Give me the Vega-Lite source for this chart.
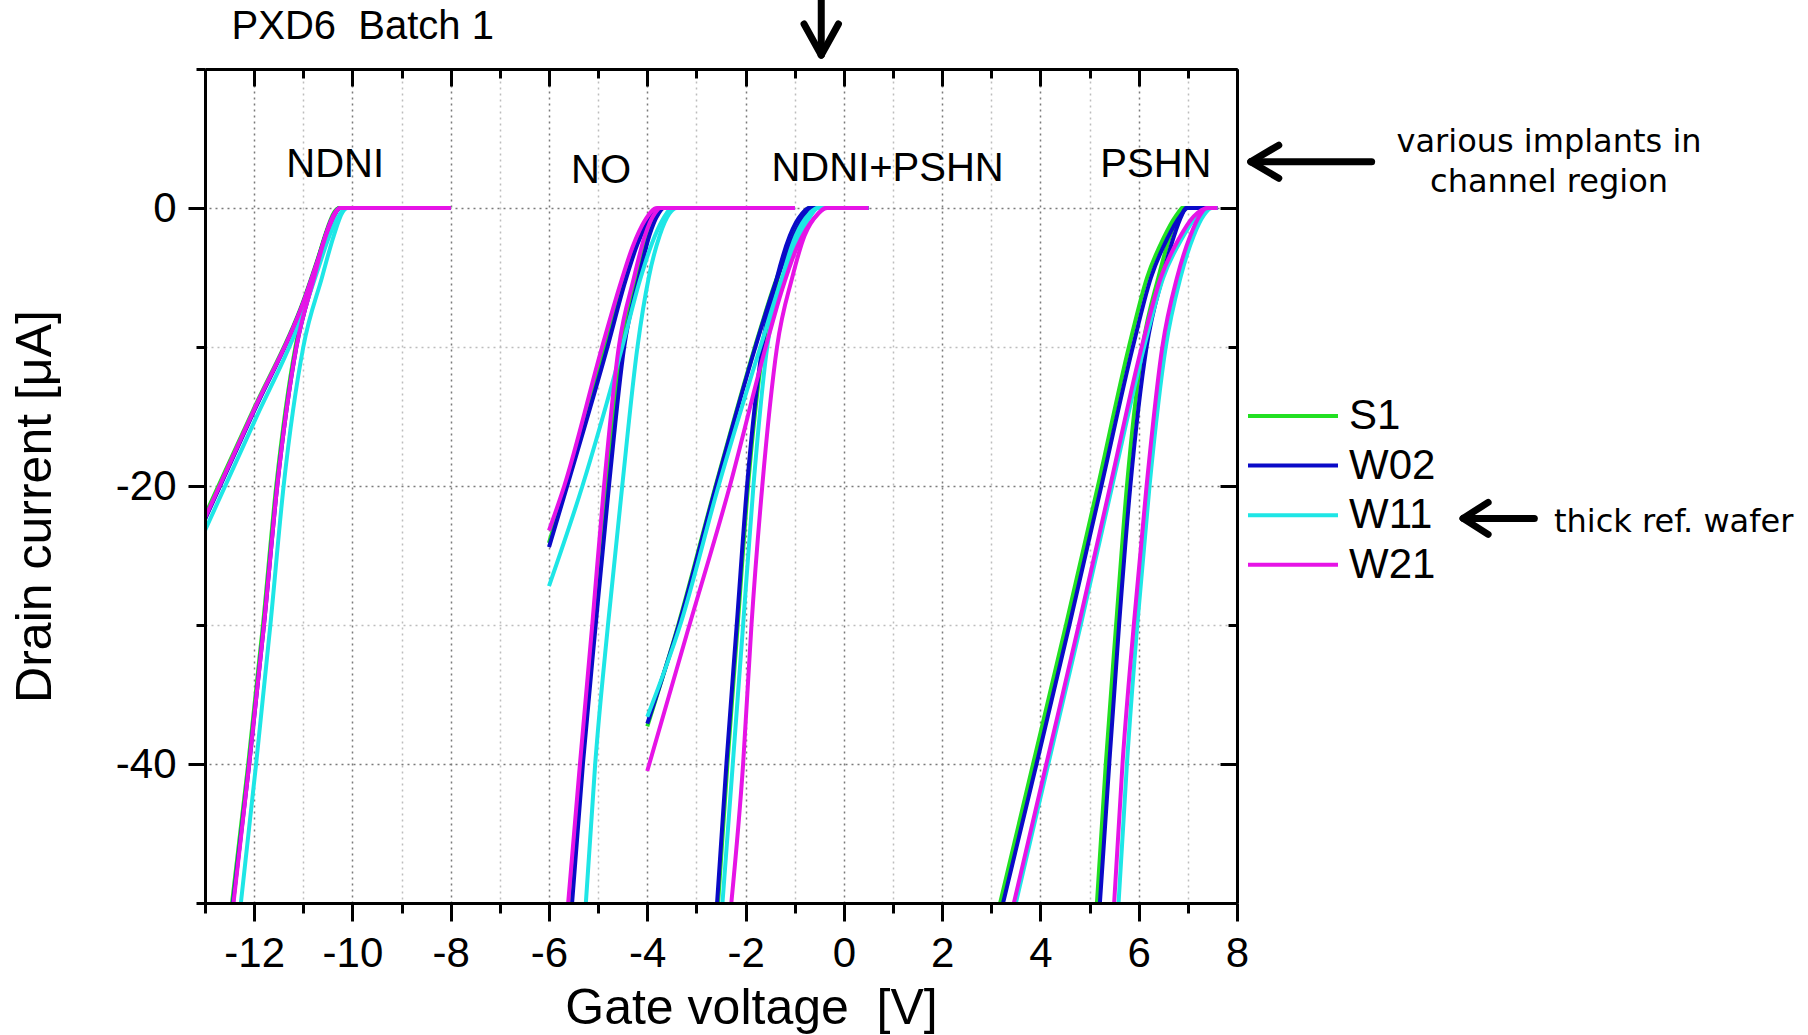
{
 "$schema": "https://vega.github.io/schema/vega-lite/v6.json",
 "width": 1032, "height": 834,
 "autosize": {"type": "none"},
 "padding": {"left": 205, "top": 69, "right": 571, "bottom": 132},
 "background": "white",
 "config": {"view": {"stroke": null}, "font": "Liberation Sans"},
 "resolve": {"axis": {"x": "independent", "y": "independent"}},
 "datasets": {
  "curves": [
   {"w":"S1","c":"A1","V":-13,"I":-22.1},{"w":"S1","c":"A1","V":-12,"I":-14.4},{"w":"S1","c":"A1","V":-11,"I":-6.7},{"w":"S1","c":"A1","V":-10.7,"I":-3.6},{"w":"S1","c":"A1","V":-10.5,"I":-1.5},{"w":"S1","c":"A1","V":-10.35,"I":-0.35},{"w":"S1","c":"A1","V":-10.27,"I":0},{"w":"S1","c":"A1","V":-8,"I":0},
   {"w":"S1","c":"A2","V":-12.45,"I":-50},{"w":"S1","c":"A2","V":-12.12,"I":-40},{"w":"S1","c":"A2","V":-11.82,"I":-30},{"w":"S1","c":"A2","V":-11.55,"I":-20},{"w":"S1","c":"A2","V":-11.16,"I":-10},{"w":"S1","c":"A2","V":-10.8,"I":-5},{"w":"S1","c":"A2","V":-10.56,"I":-2},{"w":"S1","c":"A2","V":-10.37,"I":-0.3},{"w":"S1","c":"A2","V":-10.27,"I":0},{"w":"S1","c":"A2","V":-8,"I":0},
   {"w":"S1","c":"B1","V":-6,"I":-24.1},{"w":"S1","c":"B1","V":-5.66,"I":-20},{"w":"S1","c":"B1","V":-4.86,"I":-10},{"w":"S1","c":"B1","V":-4.49,"I":-5.3},{"w":"S1","c":"B1","V":-4.25,"I":-2.6},{"w":"S1","c":"B1","V":-4.0,"I":-0.8},{"w":"S1","c":"B1","V":-3.75,"I":0},{"w":"S1","c":"B1","V":-1,"I":0},
   {"w":"S1","c":"B2","V":-5.56,"I":-50},{"w":"S1","c":"B2","V":-5.33,"I":-40},{"w":"S1","c":"B2","V":-5.08,"I":-30},{"w":"S1","c":"B2","V":-4.82,"I":-20},{"w":"S1","c":"B2","V":-4.52,"I":-10},{"w":"S1","c":"B2","V":-4.21,"I":-5},{"w":"S1","c":"B2","V":-4.0,"I":-2},{"w":"S1","c":"B2","V":-3.8,"I":-0.4},{"w":"S1","c":"B2","V":-3.69,"I":0},{"w":"S1","c":"B2","V":-1,"I":0},
   {"w":"S1","c":"C1","V":-4,"I":-37.3},{"w":"S1","c":"C1","V":-3.37,"I":-30},{"w":"S1","c":"C1","V":-2.61,"I":-20},{"w":"S1","c":"C1","V":-1.81,"I":-10},{"w":"S1","c":"C1","V":-1.41,"I":-5.5},{"w":"S1","c":"C1","V":-1.11,"I":-2.7},{"w":"S1","c":"C1","V":-0.86,"I":-0.8},{"w":"S1","c":"C1","V":-0.69,"I":0},{"w":"S1","c":"C1","V":0.5,"I":0},
   {"w":"S1","c":"C2","V":-2.56,"I":-50},{"w":"S1","c":"C2","V":-2.37,"I":-40},{"w":"S1","c":"C2","V":-2.16,"I":-30},{"w":"S1","c":"C2","V":-1.95,"I":-20},{"w":"S1","c":"C2","V":-1.64,"I":-10},{"w":"S1","c":"C2","V":-1.34,"I":-5},{"w":"S1","c":"C2","V":-1.08,"I":-2},{"w":"S1","c":"C2","V":-0.84,"I":-0.4},{"w":"S1","c":"C2","V":-0.7,"I":0},{"w":"S1","c":"C2","V":0.5,"I":0},
   {"w":"S1","c":"D1","V":3.18,"I":-50},{"w":"S1","c":"D1","V":3.85,"I":-40},{"w":"S1","c":"D1","V":4.52,"I":-30},{"w":"S1","c":"D1","V":5.17,"I":-20},{"w":"S1","c":"D1","V":5.8,"I":-10},{"w":"S1","c":"D1","V":6.17,"I":-5},{"w":"S1","c":"D1","V":6.5,"I":-2.2},{"w":"S1","c":"D1","V":6.75,"I":-0.6},{"w":"S1","c":"D1","V":6.91,"I":0},{"w":"S1","c":"D1","V":7.6,"I":0},
   {"w":"S1","c":"D2","V":5.15,"I":-50},{"w":"S1","c":"D2","V":5.33,"I":-40},{"w":"S1","c":"D2","V":5.54,"I":-30},{"w":"S1","c":"D2","V":5.76,"I":-20},{"w":"S1","c":"D2","V":6.08,"I":-10},{"w":"S1","c":"D2","V":6.4,"I":-5},{"w":"S1","c":"D2","V":6.64,"I":-2},{"w":"S1","c":"D2","V":6.8,"I":-0.5},{"w":"S1","c":"D2","V":6.88,"I":0},{"w":"S1","c":"D2","V":7.6,"I":0},

   {"w":"W02","c":"A1","V":-13,"I":-22.4},{"w":"W02","c":"A1","V":-12,"I":-14.6},{"w":"W02","c":"A1","V":-11,"I":-6.8},{"w":"W02","c":"A1","V":-10.7,"I":-3.7},{"w":"W02","c":"A1","V":-10.5,"I":-1.6},{"w":"W02","c":"A1","V":-10.35,"I":-0.4},{"w":"W02","c":"A1","V":-10.25,"I":0},{"w":"W02","c":"A1","V":-8,"I":0},
   {"w":"W02","c":"A2","V":-12.43,"I":-50},{"w":"W02","c":"A2","V":-12.1,"I":-40},{"w":"W02","c":"A2","V":-11.8,"I":-30},{"w":"W02","c":"A2","V":-11.53,"I":-20},{"w":"W02","c":"A2","V":-11.14,"I":-10},{"w":"W02","c":"A2","V":-10.78,"I":-5},{"w":"W02","c":"A2","V":-10.55,"I":-2},{"w":"W02","c":"A2","V":-10.35,"I":-0.3},{"w":"W02","c":"A2","V":-10.25,"I":0},{"w":"W02","c":"A2","V":-8,"I":0},
   {"w":"W02","c":"B1","V":-6,"I":-24.4},{"w":"W02","c":"B1","V":-5.63,"I":-20},{"w":"W02","c":"B1","V":-4.81,"I":-10},{"w":"W02","c":"B1","V":-4.45,"I":-5.3},{"w":"W02","c":"B1","V":-4.2,"I":-2.6},{"w":"W02","c":"B1","V":-3.95,"I":-0.8},{"w":"W02","c":"B1","V":-3.7,"I":0},{"w":"W02","c":"B1","V":-1,"I":0},
   {"w":"W02","c":"B2","V":-5.53,"I":-50},{"w":"W02","c":"B2","V":-5.31,"I":-40},{"w":"W02","c":"B2","V":-5.05,"I":-30},{"w":"W02","c":"B2","V":-4.78,"I":-20},{"w":"W02","c":"B2","V":-4.47,"I":-10},{"w":"W02","c":"B2","V":-4.17,"I":-5},{"w":"W02","c":"B2","V":-3.96,"I":-2},{"w":"W02","c":"B2","V":-3.77,"I":-0.4},{"w":"W02","c":"B2","V":-3.66,"I":0},{"w":"W02","c":"B2","V":-1,"I":0},
   {"w":"W02","c":"C1","V":-4,"I":-37.1},{"w":"W02","c":"C1","V":-3.36,"I":-30},{"w":"W02","c":"C1","V":-2.6,"I":-20},{"w":"W02","c":"C1","V":-1.8,"I":-10},{"w":"W02","c":"C1","V":-1.4,"I":-5.5},{"w":"W02","c":"C1","V":-1.1,"I":-2.7},{"w":"W02","c":"C1","V":-0.85,"I":-0.8},{"w":"W02","c":"C1","V":-0.68,"I":0},{"w":"W02","c":"C1","V":0.5,"I":0},
   {"w":"W02","c":"C2","V":-2.58,"I":-50},{"w":"W02","c":"C2","V":-2.39,"I":-40},{"w":"W02","c":"C2","V":-2.18,"I":-30},{"w":"W02","c":"C2","V":-1.97,"I":-20},{"w":"W02","c":"C2","V":-1.66,"I":-10},{"w":"W02","c":"C2","V":-1.36,"I":-5},{"w":"W02","c":"C2","V":-1.1,"I":-2},{"w":"W02","c":"C2","V":-0.85,"I":-0.4},{"w":"W02","c":"C2","V":-0.71,"I":0},{"w":"W02","c":"C2","V":0.5,"I":0},
   {"w":"W02","c":"D1","V":3.24,"I":-50},{"w":"W02","c":"D1","V":3.92,"I":-40},{"w":"W02","c":"D1","V":4.59,"I":-30},{"w":"W02","c":"D1","V":5.24,"I":-20},{"w":"W02","c":"D1","V":5.88,"I":-10},{"w":"W02","c":"D1","V":6.25,"I":-5},{"w":"W02","c":"D1","V":6.58,"I":-2.2},{"w":"W02","c":"D1","V":6.84,"I":-0.6},{"w":"W02","c":"D1","V":7.0,"I":0},{"w":"W02","c":"D1","V":7.6,"I":0},
   {"w":"W02","c":"D2","V":5.21,"I":-50},{"w":"W02","c":"D2","V":5.4,"I":-40},{"w":"W02","c":"D2","V":5.6,"I":-30},{"w":"W02","c":"D2","V":5.83,"I":-20},{"w":"W02","c":"D2","V":6.16,"I":-10},{"w":"W02","c":"D2","V":6.48,"I":-5},{"w":"W02","c":"D2","V":6.72,"I":-2},{"w":"W02","c":"D2","V":6.88,"I":-0.5},{"w":"W02","c":"D2","V":6.96,"I":0},{"w":"W02","c":"D2","V":7.6,"I":0},

   {"w":"W11","c":"A1","V":-13,"I":-23.2},{"w":"W11","c":"A1","V":-12,"I":-15.4},{"w":"W11","c":"A1","V":-11,"I":-7.5},{"w":"W11","c":"A1","V":-10.7,"I":-4.4},{"w":"W11","c":"A1","V":-10.5,"I":-2.3},{"w":"W11","c":"A1","V":-10.3,"I":-0.7},{"w":"W11","c":"A1","V":-10.12,"I":0},{"w":"W11","c":"A1","V":-8,"I":0},
   {"w":"W11","c":"A2","V":-12.27,"I":-50},{"w":"W11","c":"A2","V":-11.96,"I":-40},{"w":"W11","c":"A2","V":-11.67,"I":-30},{"w":"W11","c":"A2","V":-11.4,"I":-20},{"w":"W11","c":"A2","V":-11.0,"I":-10},{"w":"W11","c":"A2","V":-10.62,"I":-5},{"w":"W11","c":"A2","V":-10.38,"I":-2},{"w":"W11","c":"A2","V":-10.2,"I":-0.3},{"w":"W11","c":"A2","V":-10.1,"I":0},{"w":"W11","c":"A2","V":-8,"I":0},
   {"w":"W11","c":"B1","V":-6,"I":-27.2},{"w":"W11","c":"B1","V":-5.32,"I":-20},{"w":"W11","c":"B1","V":-4.51,"I":-10},{"w":"W11","c":"B1","V":-4.15,"I":-5.2},{"w":"W11","c":"B1","V":-3.9,"I":-2.5},{"w":"W11","c":"B1","V":-3.68,"I":-0.8},{"w":"W11","c":"B1","V":-3.5,"I":0},{"w":"W11","c":"B1","V":-1,"I":0},
   {"w":"W11","c":"B2","V":-5.25,"I":-50},{"w":"W11","c":"B2","V":-5.06,"I":-40},{"w":"W11","c":"B2","V":-4.8,"I":-30},{"w":"W11","c":"B2","V":-4.51,"I":-20},{"w":"W11","c":"B2","V":-4.2,"I":-10},{"w":"W11","c":"B2","V":-3.97,"I":-5},{"w":"W11","c":"B2","V":-3.75,"I":-2},{"w":"W11","c":"B2","V":-3.55,"I":-0.4},{"w":"W11","c":"B2","V":-3.4,"I":0},{"w":"W11","c":"B2","V":-1,"I":0},
   {"w":"W11","c":"C1","V":-4,"I":-36.6},{"w":"W11","c":"C1","V":-3.33,"I":-30},{"w":"W11","c":"C1","V":-2.55,"I":-20},{"w":"W11","c":"C1","V":-1.7,"I":-10},{"w":"W11","c":"C1","V":-1.3,"I":-5.5},{"w":"W11","c":"C1","V":-1.0,"I":-2.7},{"w":"W11","c":"C1","V":-0.72,"I":-0.8},{"w":"W11","c":"C1","V":-0.52,"I":0},{"w":"W11","c":"C1","V":0.5,"I":0},
   {"w":"W11","c":"C2","V":-2.47,"I":-50},{"w":"W11","c":"C2","V":-2.26,"I":-40},{"w":"W11","c":"C2","V":-2.05,"I":-30},{"w":"W11","c":"C2","V":-1.84,"I":-20},{"w":"W11","c":"C2","V":-1.56,"I":-10},{"w":"W11","c":"C2","V":-1.25,"I":-5},{"w":"W11","c":"C2","V":-0.98,"I":-2},{"w":"W11","c":"C2","V":-0.7,"I":-0.4},{"w":"W11","c":"C2","V":-0.54,"I":0},{"w":"W11","c":"C2","V":0.5,"I":0},
   {"w":"W11","c":"D1","V":3.5,"I":-50},{"w":"W11","c":"D1","V":4.16,"I":-40},{"w":"W11","c":"D1","V":4.82,"I":-30},{"w":"W11","c":"D1","V":5.46,"I":-20},{"w":"W11","c":"D1","V":6.11,"I":-10},{"w":"W11","c":"D1","V":6.5,"I":-5},{"w":"W11","c":"D1","V":6.88,"I":-2.2},{"w":"W11","c":"D1","V":7.18,"I":-0.6},{"w":"W11","c":"D1","V":7.5,"I":0},{"w":"W11","c":"D1","V":7.6,"I":0},
   {"w":"W11","c":"D2","V":5.59,"I":-50},{"w":"W11","c":"D2","V":5.76,"I":-40},{"w":"W11","c":"D2","V":5.97,"I":-30},{"w":"W11","c":"D2","V":6.22,"I":-20},{"w":"W11","c":"D2","V":6.55,"I":-10},{"w":"W11","c":"D2","V":6.85,"I":-5},{"w":"W11","c":"D2","V":7.12,"I":-2},{"w":"W11","c":"D2","V":7.33,"I":-0.5},{"w":"W11","c":"D2","V":7.48,"I":0},{"w":"W11","c":"D2","V":7.6,"I":0},

   {"w":"W21","c":"A1","V":-13,"I":-22.3},{"w":"W21","c":"A1","V":-12,"I":-14.5},{"w":"W21","c":"A1","V":-11,"I":-6.8},{"w":"W21","c":"A1","V":-10.7,"I":-3.7},{"w":"W21","c":"A1","V":-10.5,"I":-1.6},{"w":"W21","c":"A1","V":-10.35,"I":-0.4},{"w":"W21","c":"A1","V":-10.25,"I":0},{"w":"W21","c":"A1","V":-8,"I":0},
   {"w":"W21","c":"A2","V":-12.42,"I":-50},{"w":"W21","c":"A2","V":-12.1,"I":-40},{"w":"W21","c":"A2","V":-11.8,"I":-30},{"w":"W21","c":"A2","V":-11.53,"I":-20},{"w":"W21","c":"A2","V":-11.14,"I":-10},{"w":"W21","c":"A2","V":-10.78,"I":-5},{"w":"W21","c":"A2","V":-10.55,"I":-2},{"w":"W21","c":"A2","V":-10.35,"I":-0.3},{"w":"W21","c":"A2","V":-10.25,"I":0},{"w":"W21","c":"A2","V":-8,"I":0},
   {"w":"W21","c":"B1","V":-6,"I":-23.2},{"w":"W21","c":"B1","V":-5.69,"I":-20},{"w":"W21","c":"B1","V":-4.92,"I":-10},{"w":"W21","c":"B1","V":-4.55,"I":-5.5},{"w":"W21","c":"B1","V":-4.3,"I":-2.8},{"w":"W21","c":"B1","V":-4.05,"I":-0.9},{"w":"W21","c":"B1","V":-3.8,"I":0},{"w":"W21","c":"B1","V":-1,"I":0},
   {"w":"W21","c":"B2","V":-5.61,"I":-50},{"w":"W21","c":"B2","V":-5.37,"I":-40},{"w":"W21","c":"B2","V":-5.12,"I":-30},{"w":"W21","c":"B2","V":-4.88,"I":-20},{"w":"W21","c":"B2","V":-4.58,"I":-10},{"w":"W21","c":"B2","V":-4.27,"I":-5},{"w":"W21","c":"B2","V":-4.05,"I":-2},{"w":"W21","c":"B2","V":-3.85,"I":-0.4},{"w":"W21","c":"B2","V":-3.73,"I":0},{"w":"W21","c":"B2","V":-1,"I":0},
   {"w":"W21","c":"C1","V":-4,"I":-40.5},{"w":"W21","c":"C1","V":-3.2,"I":-30.7},{"w":"W21","c":"C1","V":-2.32,"I":-20},{"w":"W21","c":"C1","V":-1.59,"I":-10},{"w":"W21","c":"C1","V":-1.25,"I":-5.8},{"w":"W21","c":"C1","V":-0.95,"I":-2.8},{"w":"W21","c":"C1","V":-0.6,"I":-0.7},{"w":"W21","c":"C1","V":-0.34,"I":0},{"w":"W21","c":"C1","V":0.5,"I":0},
   {"w":"W21","c":"C2","V":-2.29,"I":-50},{"w":"W21","c":"C2","V":-2.05,"I":-40},{"w":"W21","c":"C2","V":-1.88,"I":-30},{"w":"W21","c":"C2","V":-1.66,"I":-20},{"w":"W21","c":"C2","V":-1.36,"I":-10},{"w":"W21","c":"C2","V":-1.05,"I":-5},{"w":"W21","c":"C2","V":-0.8,"I":-2},{"w":"W21","c":"C2","V":-0.52,"I":-0.4},{"w":"W21","c":"C2","V":-0.37,"I":0},{"w":"W21","c":"C2","V":0.5,"I":0},
   {"w":"W21","c":"D1","V":3.46,"I":-50},{"w":"W21","c":"D1","V":4.12,"I":-40},{"w":"W21","c":"D1","V":4.78,"I":-30},{"w":"W21","c":"D1","V":5.42,"I":-20},{"w":"W21","c":"D1","V":6.06,"I":-10},{"w":"W21","c":"D1","V":6.45,"I":-5},{"w":"W21","c":"D1","V":6.82,"I":-2.2},{"w":"W21","c":"D1","V":7.12,"I":-0.6},{"w":"W21","c":"D1","V":7.42,"I":0},{"w":"W21","c":"D1","V":7.6,"I":0},
   {"w":"W21","c":"D2","V":5.5,"I":-50},{"w":"W21","c":"D2","V":5.67,"I":-40},{"w":"W21","c":"D2","V":5.9,"I":-30},{"w":"W21","c":"D2","V":6.16,"I":-20},{"w":"W21","c":"D2","V":6.48,"I":-10},{"w":"W21","c":"D2","V":6.78,"I":-5},{"w":"W21","c":"D2","V":7.05,"I":-2},{"w":"W21","c":"D2","V":7.25,"I":-0.5},{"w":"W21","c":"D2","V":7.38,"I":0},{"w":"W21","c":"D2","V":7.6,"I":0}
  ],
  "arrows": [
   {"V":-0.46,"I":14.97,"V2":-0.46,"I2":11.1},
   {"V":-0.46,"I":11.0,"V2":-0.81,"I2":13.24},
   {"V":-0.46,"I":11.0,"V2":-0.11,"I2":13.24},
   {"V":10.74,"I":3.33,"V2":8.4,"I2":3.33},
   {"V":8.28,"I":3.33,"V2":8.85,"I2":4.52},
   {"V":8.28,"I":3.33,"V2":8.85,"I2":2.14},
   {"V":14.05,"I":-22.33,"V2":12.7,"I2":-22.33},
   {"V":12.6,"I":-22.33,"V2":13.11,"I2":-21.18},
   {"V":12.6,"I":-22.33,"V2":13.11,"I2":-23.48}
  ],
  "labels": [
   {"t":"NDNI","V":-10.35,"I":3.07},
   {"t":"NO","V":-4.94,"I":2.66},
   {"t":"NDNI+PSHN","V":0.89,"I":2.82},
   {"t":"PSHN","V":6.35,"I":3.07}
  ],
  "implants": [
   {"t":"various implants in","V":14.35,"I":4.02},
   {"t":"channel region","V":14.35,"I":1.14}
  ],
  "thick": [
   {"t":"thick ref. wafer","V":14.45,"I":-23.33}
  ],
  "title": [
   {"t":"PXD6\u00a0 Batch 1","V":-12.46,"I":12.14}
  ]
 },
 "layer": [
  {
   "data": {"name": "arrows"},
   "mark": {"type": "rule", "strokeWidth": 7, "strokeCap": "round", "color": "black"},
   "encoding": {
    "x": {"field": "V", "type": "quantitative", "scale": {"domain": [-13, 8], "nice": false, "zero": false},
     "axis": {"orient": "bottom", "values": [-13,-11,-9,-7,-5,-3,-1,1,3,5,7], "labels": false, "domain": false, "title": null,
      "tickSize": 10, "tickWidth": 3, "tickColor": "black", "grid": true, "gridColor": "#bdbdbd", "gridDash": [2,4], "gridWidth": 1.5, "zindex": 0}},
    "x2": {"field": "V2"},
    "y": {"field": "I", "type": "quantitative", "scale": {"domain": [-50, 10], "nice": false, "zero": false},
     "axis": {"orient": "left", "values": [-50,-30,-10,10], "labels": false, "domain": false, "title": null,
      "tickSize": 9, "tickWidth": 3, "tickColor": "black", "grid": true, "gridColor": "#bdbdbd", "gridDash": [2,4], "gridWidth": 1.5, "zindex": 0}},
    "y2": {"field": "I2"}
   }
  },
  {
   "data": {"name": "labels"},
   "mark": {"type": "text", "fontSize": 40, "align": "center", "baseline": "middle", "color": "black", "font": "Liberation Sans"},
   "encoding": {
    "x": {"field": "V", "type": "quantitative", "scale": {"domain": [-13, 8], "nice": false, "zero": false},
     "axis": {"orient": "top", "values": [-12,-10,-8,-6,-4,-2,0,2,4,6,8], "labels": false, "domain": true, "domainWidth": 3, "domainColor": "black", "title": null,
      "tickSize": -17, "tickWidth": 3, "tickColor": "black", "grid": true, "gridColor": "#7a7a7a", "gridDash": [2,4], "gridWidth": 1.5, "zindex": 0}},
    "y": {"field": "I", "type": "quantitative", "scale": {"domain": [-50, 10], "nice": false, "zero": false},
     "axis": {"orient": "right", "values": [-40,-20,0], "labels": false, "domain": true, "domainWidth": 3, "domainColor": "black", "title": null,
      "tickSize": -17, "tickWidth": 3, "tickColor": "black", "grid": true, "gridColor": "#7a7a7a", "gridDash": [2,4], "gridWidth": 1.5, "zindex": 0}},
    "text": {"field": "t"}
   }
  },
  {
   "data": {"name": "implants"},
   "mark": {"type": "text", "fontSize": 32, "align": "center", "baseline": "alphabetic", "color": "black", "font": "DejaVu Sans"},
   "encoding": {
    "x": {"field": "V", "type": "quantitative", "scale": {"domain": [-13, 8], "nice": false, "zero": false},
     "axis": {"orient": "top", "values": [-13,-11,-9,-7,-5,-3,-1,1,3,5,7], "labels": false, "domain": false, "title": null,
      "tickSize": -9, "tickWidth": 3, "tickColor": "black", "grid": false, "zindex": 1}},
    "y": {"field": "I", "type": "quantitative", "scale": {"domain": [-50, 10], "nice": false, "zero": false},
     "axis": {"orient": "right", "values": [-50,-30,-10,10], "labels": false, "domain": false, "title": null,
      "tickSize": -9, "tickWidth": 3, "tickColor": "black", "grid": false, "zindex": 1}},
    "text": {"field": "t"}
   }
  },
  {
   "data": {"name": "thick"},
   "mark": {"type": "text", "fontSize": 32, "align": "left", "baseline": "alphabetic", "color": "black", "font": "DejaVu Sans"},
   "encoding": {
    "x": {"field": "V", "type": "quantitative", "scale": {"domain": [-13, 8], "nice": false, "zero": false}, "axis": null},
    "y": {"field": "I", "type": "quantitative", "scale": {"domain": [-50, 10], "nice": false, "zero": false}, "axis": null},
    "text": {"field": "t"}
   }
  },
  {
   "data": {"name": "title"},
   "mark": {"type": "text", "fontSize": 40, "align": "left", "baseline": "alphabetic", "color": "black", "font": "Liberation Sans"},
   "encoding": {
    "x": {"field": "V", "type": "quantitative", "scale": {"domain": [-13, 8], "nice": false, "zero": false}, "axis": null},
    "y": {"field": "I", "type": "quantitative", "scale": {"domain": [-50, 10], "nice": false, "zero": false}, "axis": null},
    "text": {"field": "t"}
   }
  },
  {
   "data": {"name": "curves"},
   "mark": {"type": "line", "strokeWidth": 4, "clip": true, "interpolate": "monotone", "strokeJoin": "round"},
   "encoding": {
    "x": {"field": "V", "type": "quantitative", "scale": {"domain": [-13, 8], "nice": false, "zero": false},
     "axis": {"orient": "bottom", "values": [-12,-10,-8,-6,-4,-2,0,2,4,6,8], "title": "Gate voltage\u00a0 [V]", "grid": false,
      "domain": true, "domainWidth": 3, "domainColor": "black", "tickSize": 18, "tickWidth": 3, "tickColor": "black",
      "labelFont": "Liberation Sans", "labelFontSize": 42, "labelColor": "black", "labelPadding": 12,
      "labelExpr": "replace(datum.label,'\u2212','-')", "labelFlush": false, "labelOverlap": false, "labelBound": false,
      "titleFont": "Liberation Sans", "titleFontSize": 50, "titleFontWeight": "normal", "titleColor": "black",
      "titlePadding": 9, "titleX": 546, "zindex": 1}},
    "y": {"field": "I", "type": "quantitative", "scale": {"domain": [-50, 10], "nice": false, "zero": false},
     "axis": {"orient": "left", "values": [-40,-20,0], "title": "Drain current [μA]", "grid": false,
      "domain": true, "domainWidth": 3, "domainColor": "black", "tickSize": 17, "tickWidth": 3, "tickColor": "black",
      "labelFont": "Liberation Sans", "labelFontSize": 42, "labelColor": "black", "labelPadding": 12,
      "labelExpr": "replace(datum.label,'\u2212','-')", "labelFlush": false, "labelOverlap": false,
      "titleFont": "Liberation Sans", "titleFontSize": 50, "titleFontWeight": "normal", "titleColor": "black",
      "titleX": -155, "titleY": 437, "titleAngle": -90, "titleBaseline": "alphabetic", "titleAlign": "center", "zindex": 1}},
    "color": {"field": "w", "type": "nominal",
     "scale": {"domain": ["S1","W02","W11","W21"], "range": ["#22e022","#0a0ac8","#1ee6e6","#e614e6"]},
     "legend": {"orient": "none", "legendX": 1041, "legendY": 326, "title": null, "symbolType": "stroke", "symbolSize": 8100,
      "symbolStrokeWidth": 4, "clipHeight": 42, "rowPadding": 7.6, "labelFont": "Liberation Sans", "labelFontSize": 42,
      "labelColor": "black", "labelOffset": 9, "padding": 0, "symbolOffset": 0}},
    "detail": {"field": "c"}
   }
  }
 ]
}
